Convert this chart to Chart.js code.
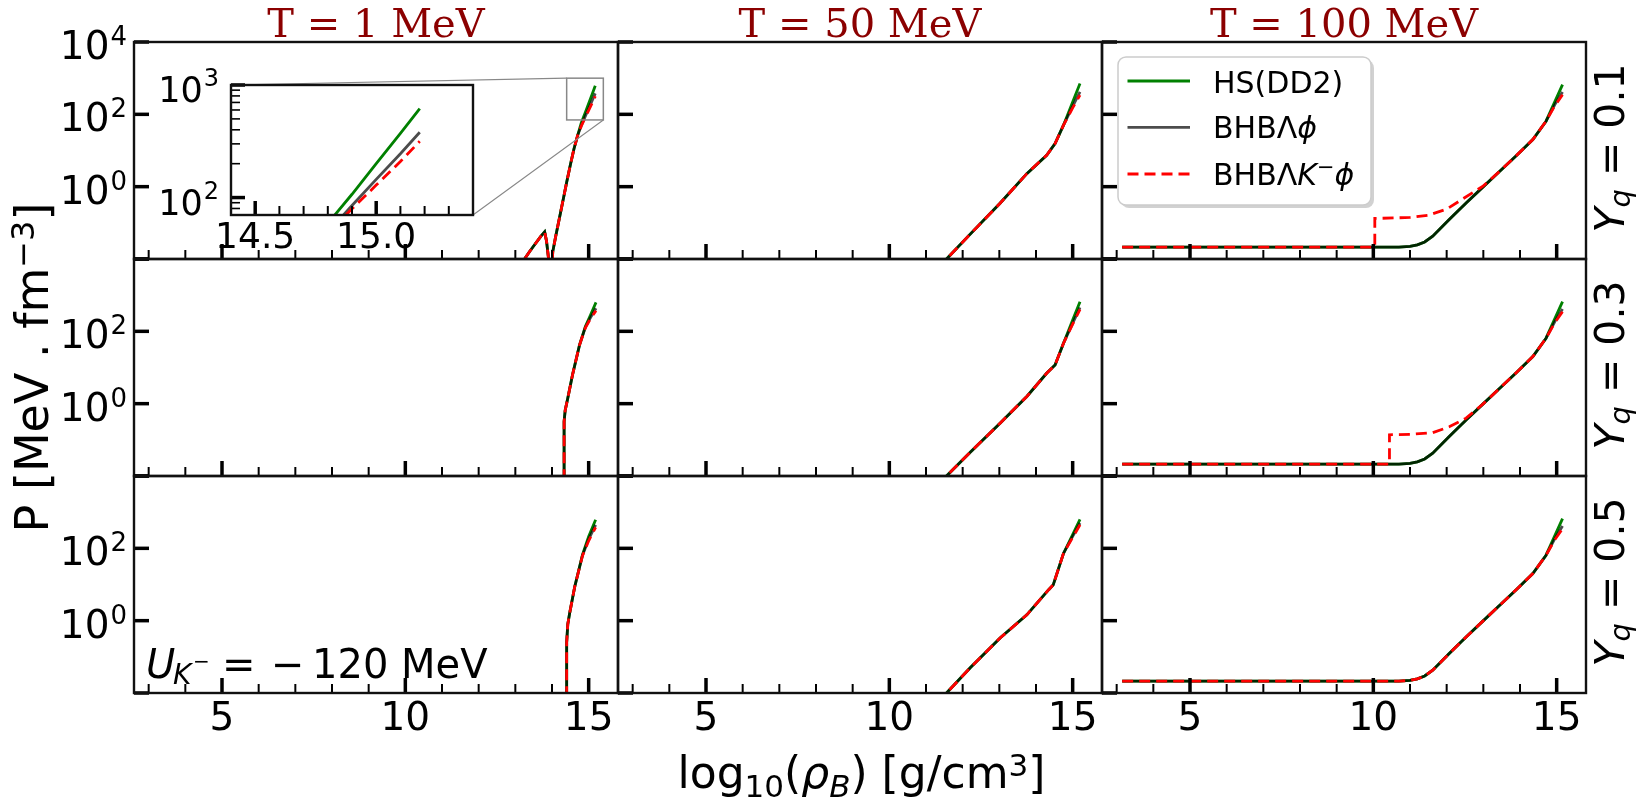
<!DOCTYPE html>
<html>
<head>
<meta charset="utf-8">
<script src="https://cdn.jsdelivr.net/npm/chart.js@4.4.1/dist/chart.umd.min.js"></script>
<style>
  body { margin: 0; background: #fff; }
  #page { position: relative; width: 1650px; height: 802px; overflow: hidden; background: #fff; font-family: "DejaVu Sans", sans-serif; }
  #page canvas { position: absolute; }
  #labels { position: absolute; left: 0; top: 0; z-index: 10; pointer-events: none; }
</style>
</head>
<body>
<div id="page">
<svg id="labels" width="1650" height="802" font-family="DejaVu Sans" fill="#000">
  <!-- column titles -->
  <text x="376" y="37" font-family="DejaVu Serif" font-size="40" fill="#8b0000" text-anchor="middle">T = 1 MeV</text>
  <text x="860" y="37" font-family="DejaVu Serif" font-size="40" fill="#8b0000" text-anchor="middle">T = 50 MeV</text>
  <text x="1344" y="37" font-family="DejaVu Serif" font-size="40" fill="#8b0000" text-anchor="middle">T = 100 MeV</text>

  <!-- axis labels -->
  <text transform="translate(47.5,367.5) rotate(-90)" text-anchor="middle" font-size="46">P [MeV . fm<tspan dy="-14" font-size="32">−3</tspan><tspan dy="14">]</tspan></text>
  <text x="861.5" y="788" text-anchor="middle" font-size="44">log<tspan dy="8.7" font-size="31">10</tspan><tspan dy="-8.7">(</tspan><tspan font-style="italic">ρ</tspan><tspan dy="8.7" font-size="31" font-style="italic">B</tspan><tspan dy="-8.7">) [g/cm</tspan><tspan dy="-12.3" font-size="31">3</tspan><tspan dy="12.3">]</tspan></text>

  <!-- Yq labels on the right -->
  <text transform="translate(1624,148) rotate(-90)" text-anchor="middle" font-size="41"><tspan font-style="italic">Y</tspan><tspan dy="6" font-size="29" font-style="italic">q</tspan><tspan dy="-6"> = 0.1</tspan></text>
  <text transform="translate(1624,365) rotate(-90)" text-anchor="middle" font-size="41"><tspan font-style="italic">Y</tspan><tspan dy="6" font-size="29" font-style="italic">q</tspan><tspan dy="-6"> = 0.3</tspan></text>
  <text transform="translate(1624,582) rotate(-90)" text-anchor="middle" font-size="41"><tspan font-style="italic">Y</tspan><tspan dy="6" font-size="29" font-style="italic">q</tspan><tspan dy="-6"> = 0.5</tspan></text>

  <!-- kaon potential note -->
  <text x="146" y="678.3" font-size="40" font-style="italic">U</text>
  <text x="173" y="684" font-size="28" font-style="italic">K</text>
  <text x="193" y="668" font-size="20">−</text>
  <text x="222" y="678.3" font-size="40">=</text>
  <text x="271" y="678.3" font-size="40">−</text>
  <text x="312" y="678.3" font-size="40">120 MeV</text>

  <!-- legend -->
  <rect x="1121" y="60" width="253" height="148" rx="8" fill="#000" opacity="0.18"/>
  <rect x="1118" y="57" width="253" height="148" rx="8" fill="#fff" stroke="#cccccc" stroke-width="1.5"/>
  <line x1="1127.5" y1="81" x2="1190" y2="81" stroke="#008000" stroke-width="2.8"/>
  <line x1="1127.5" y1="127.3" x2="1190" y2="127.3" stroke="rgba(0,0,0,0.7)" stroke-width="2.8"/>
  <line x1="1127.5" y1="174" x2="1190" y2="174" stroke="#ff0000" stroke-width="2.8" stroke-dasharray="11 6"/>
  <text x="1213" y="93.3" font-size="30">HS(DD2)</text>
  <text x="1213" y="138.3" font-size="30">BHBΛ<tspan font-style="italic">ϕ</tspan></text>
  <text x="1213" y="185" font-size="30">BHBΛ<tspan font-style="italic">K</tspan><tspan dy="-11" font-size="21">−</tspan><tspan dy="11" font-style="italic">ϕ</tspan></text>
</svg>
</div>
<script>
// ---- data: x = log10(rho_B), y = P [MeV fm^-3] ----

// T = 1 MeV
const t1q1_x    = [13.0, 13.25, 13.4, 13.55, 13.7, 13.8, 13.85, 13.93, 13.96, 13.98, 14.02, 14.1, 14.2, 14.3, 14.4, 14.5, 14.6, 14.7, 14.8, 14.9, 15.0, 15.1, 15.18]
const t1q1_hs   = [0.0043, 0.01, 0.0166, 0.0269, 0.0427, 0.0562, 0.0316, 0.0063, 0.0025, 0.0025, 0.0158, 0.0417, 0.132, 0.417, 1.32, 3.98, 11.2, 26.3, 58.9, 107, 200, 372, 617]
const t1q1_bhb  = [0.0043, 0.01, 0.0166, 0.0269, 0.0427, 0.0562, 0.0316, 0.0063, 0.0025, 0.0025, 0.0158, 0.0417, 0.132, 0.417, 1.32, 3.98, 11.2, 26.3, 49.0, 85.1, 145, 245, 380]
const t1q1_bhbk = [0.0043, 0.01, 0.0166, 0.0269, 0.0427, 0.0562, 0.0316, 0.0063, 0.0025, 0.0025, 0.0158, 0.0417, 0.132, 0.417, 1.32, 3.98, 11.2, 26.3, 47.9, 79.4, 129, 209, 316]

const t1q3_x    = [14.33, 14.33, 14.36, 14.43, 14.56, 14.75, 14.91, 15.05, 15.2]
const t1q3_hs   = [0.0001, 0.32, 0.66, 1.41, 6.31, 41.7, 135, 282, 631]
const t1q3_bhb  = [0.0001, 0.32, 0.66, 1.41, 6.31, 41.7, 129, 240, 437]
const t1q3_bhbk = [0.0001, 0.32, 0.66, 1.41, 6.31, 41.7, 126, 224, 372]

const t1q5_x    = [14.40, 14.40, 14.43, 14.48, 14.62, 14.83, 15.0, 15.19]
const t1q5_hs   = [0.0001, 0.25, 0.79, 1.58, 8.7, 66, 214, 617]
const t1q5_bhb  = [0.0001, 0.25, 0.79, 1.58, 8.7, 63, 178, 447]
const t1q5_bhbk = [0.0001, 0.25, 0.79, 1.58, 8.7, 61.7, 162, 380]

// T = 50 MeV
const t50q1_x    = [11.0, 11.56, 12.2, 13.02, 13.75, 14.29, 14.52, 14.75, 15.0, 15.2]
const t50q1_hs   = [0.0026, 0.01, 0.048, 0.347, 2.29, 7.41, 15.5, 50.1, 219, 708]
const t50q1_bhb  = [0.0026, 0.01, 0.048, 0.347, 2.29, 7.41, 15.5, 50.1, 166, 417]
const t50q1_bhbk = [0.0026, 0.01, 0.048, 0.347, 2.29, 7.41, 15.5, 50.1, 151, 339]

const t50q3_x    = [11.0, 11.56, 12.2, 13.02, 13.75, 14.29, 14.52, 14.75, 15.0, 15.2]
const t50q3_hs   = [0.0026, 0.01, 0.0447, 0.288, 1.58, 6.92, 11.7, 46.8, 204, 661]
const t50q3_bhb  = [0.0026, 0.01, 0.0447, 0.288, 1.58, 6.92, 11.7, 46.8, 166, 457]
const t50q3_bhbk = [0.0026, 0.01, 0.0447, 0.288, 1.58, 6.92, 11.7, 46.8, 158, 407]

const t50q5_x    = [11.0, 11.56, 12.2, 13.02, 13.75, 14.34, 14.47, 14.75, 15.0, 15.2]
const t50q5_hs   = [0.0026, 0.01, 0.049, 0.331, 1.45, 7.08, 9.77, 72.4, 240, 631]
const t50q5_bhb  = [0.0026, 0.01, 0.049, 0.331, 1.45, 7.08, 9.77, 72.4, 214, 501]
const t50q5_bhbk = [0.0026, 0.01, 0.049, 0.331, 1.45, 7.08, 9.77, 72.4, 200, 447]

// T = 100 MeV
const t100_x    = [3.15, 10.7, 11.0, 11.2, 11.4, 11.62, 12.07, 12.53, 12.98, 13.44, 13.89, 14.35, 14.71, 14.95, 15.16]
const t100_hs   = [0.0214, 0.0214, 0.0222, 0.0245, 0.0295, 0.0427, 0.123, 0.355, 0.955, 2.63, 7.08, 20.0, 64.6, 224, 661]
const t100_bhb  = [0.0214, 0.0214, 0.0222, 0.0245, 0.0295, 0.0427, 0.123, 0.355, 0.955, 2.63, 7.08, 20.0, 64.6, 186, 417]
const t100q1_xk   = [3.15, 10.04, 10.04, 11.0, 11.5, 12.0, 12.5, 13.0, 13.44, 13.89, 14.35, 14.71, 14.95, 15.16]
const t100q1_bhbk = [0.0214, 0.0214, 0.132, 0.141, 0.162, 0.24, 0.50, 1.05, 2.63, 7.08, 20.0, 64.6, 174, 347]
const t100q3_xk   = [3.15, 10.44, 10.44, 11.0, 11.62, 12.07, 12.53, 12.98, 13.44, 13.89, 14.35, 14.71, 14.95, 15.16]
const t100q3_bhbk = [0.0214, 0.0214, 0.138, 0.141, 0.158, 0.229, 0.398, 0.955, 2.63, 7.08, 20.0, 64.6, 174, 347]
const t100q5_bhbk = [0.0214, 0.0214, 0.0222, 0.0245, 0.0295, 0.0427, 0.123, 0.355, 0.955, 2.63, 7.08, 20.0, 64.6, 174, 347]

// axes
const xRange = [2.6, 15.8]
const yRange = [1e-2, 1e4]
const xMajor = [5, 10, 15]
const xMinor = [3, 4, 6, 7, 8, 9, 11, 12, 13, 14]
const yMajor = [1e-2, 1e0, 1e2, 1e4]
const yLabelRows = [[1e4, 1e2, 1e0], [1e2, 1e0], [1e2, 1e0]]

// inset (zoom of T = 1 MeV, Yq = 0.1)
const insetX = [14.4, 15.4]
const insetY = [70, 1000]
const insetXMajor = [14.5, 15.0]
const insetXMinor = [14.6, 14.7, 14.8, 14.9, 15.1, 15.2, 15.3]
const insetYMajor = [100, 1000]
const insetYMinor = [80, 90, 200, 300, 400, 500, 600, 700, 800, 900]

const panelSeries = [
  [[t1q1_x, t1q1_hs, t1q1_bhb, t1q1_x, t1q1_bhbk], [t50q1_x, t50q1_hs, t50q1_bhb, t50q1_x, t50q1_bhbk], [t100_x, t100_hs, t100_bhb, t100q1_xk, t100q1_bhbk]],
  [[t1q3_x, t1q3_hs, t1q3_bhb, t1q3_x, t1q3_bhbk], [t50q3_x, t50q3_hs, t50q3_bhb, t50q3_x, t50q3_bhbk], [t100_x, t100_hs, t100_bhb, t100q3_xk, t100q3_bhbk]],
  [[t1q5_x, t1q5_hs, t1q5_bhb, t1q5_x, t1q5_bhbk], [t50q5_x, t50q5_hs, t50q5_bhb, t50q5_x, t50q5_bhbk], [t100_x, t100_hs, t100_bhb, t100_x, t100q5_bhbk]]
]

// ---- layout ----
const colLeft = [134, 618, 1102]
const rowTop = [42, 259, 476]
const PW = 484, PH = 217
const PAD = { left: 120, top: 20, right: 20, bottom: 60 }
const INSET = { left: 231, top: 85, w: 242, h: 130 }
const IPAD = { left: 85, top: 25, right: 10, bottom: 45 }

const pts = (xs, ys) => xs.map((x, i) => ({ x: x, y: ys[i] }))

function addCanvas (left, top, w, h, z) {
  const c = document.createElement('canvas')
  c.width = w
  c.height = h
  c.style.left = left + 'px'
  c.style.top = top + 'px'
  c.style.zIndex = z
  document.getElementById('page').appendChild(c)
  return c
}

function powLabel (ctx, v, xRight, yTick, big, small, base, raise) {
  const e = String(Math.round(Math.log10(v)))
  ctx.textAlign = 'right'
  ctx.font = small + 'px "DejaVu Sans"'
  ctx.fillText(e, xRight, yTick + base - raise)
  const w = ctx.measureText(e).width
  ctx.font = big + 'px "DejaVu Sans"'
  ctx.fillText('10', xRight - w - 1, yTick + base)
}

// frame, inward ticks and tick labels, placed through the chart scales
function axesDecor (cfg) {
  return {
    id: 'axesDecor',
    beforeDraw (chart) {
      if (!cfg.fill) return
      const a = chart.chartArea
      chart.ctx.save()
      chart.ctx.fillStyle = '#fff'
      chart.ctx.fillRect(a.left, a.top, a.right - a.left, a.bottom - a.top)
      chart.ctx.restore()
    },
    afterDraw (chart) {
      const ctx = chart.ctx
      const a = chart.chartArea
      const x = chart.scales.x
      const y = chart.scales.y
      const seg = (x1, y1, x2, y2, w) => {
        ctx.lineWidth = w
        ctx.beginPath()
        ctx.moveTo(x1, y1)
        ctx.lineTo(x2, y2)
        ctx.stroke()
      }
      ctx.save()
      ctx.strokeStyle = '#000'
      ctx.fillStyle = '#000'
      cfg.xMajor.forEach(v => { const p = x.getPixelForValue(v); seg(p, a.bottom, p, a.bottom - cfg.majLen, 3.5) })
      cfg.xMinor.forEach(v => { const p = x.getPixelForValue(v); seg(p, a.bottom, p, a.bottom - cfg.minLen, 2) })
      cfg.yMajor.forEach(v => { const p = y.getPixelForValue(v); seg(a.left, p, a.left + cfg.majLen, p, 3.5) })
      cfg.yMinor.forEach(v => { const p = y.getPixelForValue(v); seg(a.left, p, a.left + cfg.minLen, p, 1.6) })
      ctx.lineWidth = 2.4
      ctx.strokeStyle = '#111'
      ctx.strokeRect(a.left, a.top, a.right - a.left, a.bottom - a.top)
      ctx.textBaseline = 'alphabetic'
      if (cfg.xLabels) {
        ctx.font = cfg.xFont + 'px "DejaVu Sans"'
        ctx.textAlign = 'center'
        cfg.xLabels.forEach(v => ctx.fillText(cfg.xFmt(v), x.getPixelForValue(v), a.bottom + cfg.xBase))
      }
      if (cfg.yLabels) {
        cfg.yLabels.forEach(v => powLabel(ctx, v, a.left - cfg.yGap, y.getPixelForValue(v), cfg.yBig, cfg.ySmall, 17, cfg.yRaise))
      }
      ctx.restore()
    }
  }
}

// rectangle around the zoomed region and the two connector lines to the inset
const zoomMark = {
  id: 'zoomMark',
  afterDatasetsDraw (chart) {
    const ctx = chart.ctx
    const x = chart.scales.x
    const y = chart.scales.y
    const x1 = x.getPixelForValue(insetX[0])
    const x2 = x.getPixelForValue(insetX[1])
    const y1 = y.getPixelForValue(insetY[1])
    const y2 = y.getPixelForValue(insetY[0])
    const ox = colLeft[0] - PAD.left
    const oy = rowTop[0] - PAD.top
    const il = INSET.left - ox
    const it = INSET.top - oy
    ctx.save()
    ctx.strokeStyle = '#888'
    ctx.lineWidth = 1.5
    ctx.strokeRect(x1, y1, x2 - x1, y2 - y1)
    ctx.lineWidth = 1.1
    ctx.beginPath()
    ctx.moveTo(il, it)
    ctx.lineTo(x1, y1)
    ctx.moveTo(il + INSET.w, it + INSET.h)
    ctx.lineTo(x2, y2)
    ctx.stroke()
    ctx.restore()
  }
}

function datasets (s) {
  return [
    { label: 'HS(DD2)', data: pts(s[0], s[1]), borderColor: '#008000', borderWidth: 2.8, pointRadius: 0, order: 3 },
    { label: 'BHBΛϕ', data: pts(s[0], s[2]), borderColor: 'rgba(0,0,0,0.7)', borderWidth: 2.8, pointRadius: 0, order: 2 },
    { label: 'BHBΛK⁻ϕ', data: pts(s[3], s[4]), borderColor: '#ff0000', borderWidth: 2.8, borderDash: [11, 6], pointRadius: 0, order: 1 }
  ]
}

function chartOptions (pad, xr, yr) {
  return {
    responsive: false,
    animation: false,
    events: [],
    layout: { padding: pad },
    plugins: { legend: { display: false }, tooltip: { enabled: false } },
    elements: { line: { tension: 0 } },
    scales: {
      x: { type: 'linear', min: xr[0], max: xr[1], display: false },
      y: { type: 'logarithmic', min: yr[0], max: yr[1], display: false }
    }
  }
}

panelSeries.forEach((row, r) => {
  row.forEach((s, c) => {
    const canvas = addCanvas(colLeft[c] - PAD.left, rowTop[r] - PAD.top, PW + PAD.left + PAD.right, PH + PAD.top + PAD.bottom, 1 + r * 3 + c)
    const plugins = [axesDecor({
      fill: false,
      xMajor: xMajor, xMinor: xMinor, yMajor: yMajor, yMinor: [],
      majLen: 15, minLen: 9,
      xLabels: r === 2 ? xMajor : null, xFmt: v => String(v), xFont: 39, xBase: 37,
      yLabels: c === 0 ? yLabelRows[r] : null, yGap: 7, yBig: 39, ySmall: 26, yRaise: 14
    })]
    if (r === 0 && c === 0) plugins.push(zoomMark)
    new Chart(canvas, {
      type: 'line',
      data: { datasets: datasets(s) },
      options: chartOptions(PAD, xRange, yRange),
      plugins: plugins
    })
  })
})

// inset
const insetCanvas = addCanvas(INSET.left - IPAD.left, INSET.top - IPAD.top, INSET.w + IPAD.left + IPAD.right, INSET.h + IPAD.top + IPAD.bottom, 20)
new Chart(insetCanvas, {
  type: 'line',
  data: { datasets: datasets(panelSeries[0][0]) },
  options: chartOptions(IPAD, insetX, insetY),
  plugins: [axesDecor({
    fill: true,
    xMajor: insetXMajor, xMinor: insetXMinor, yMajor: insetYMajor, yMinor: insetYMinor,
    majLen: 14, minLen: 9,
    xLabels: insetXMajor, xFmt: v => v.toFixed(1), xFont: 36, xBase: 33,
    yLabels: insetYMajor, yGap: 12, yBig: 35, ySmall: 24, yRaise: 16
  })]
})
</script>
</body>
</html>
